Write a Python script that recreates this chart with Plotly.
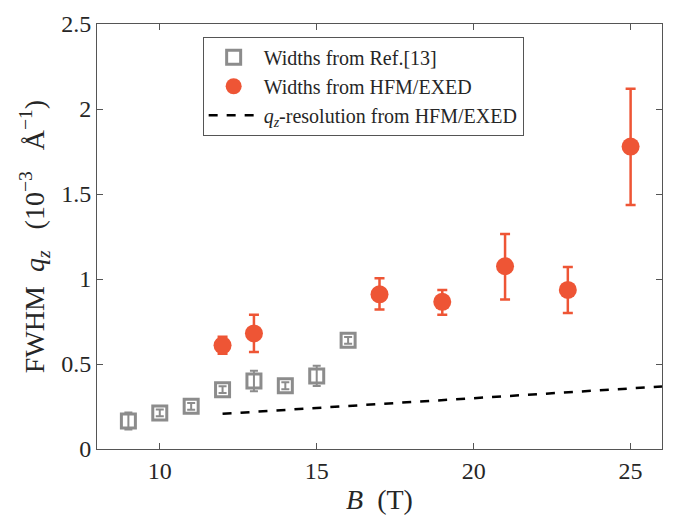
import plotly.graph_objects as go

# Widths from Ref.[13]
ref_B = [9, 10, 11, 12, 13, 14, 15, 16]
ref_w = [0.165, 0.212, 0.251, 0.349, 0.40, 0.372, 0.43, 0.639]
ref_err = [0.05, 0.02, 0.02, 0.02, 0.06, 0.02, 0.06, 0.02]

# Widths from HFM/EXED
hfm_B = [12, 13, 17, 19, 21, 23, 25]
hfm_w = [0.61, 0.68, 0.91, 0.866, 1.075, 0.936, 1.779]
hfm_plus = [0.05, 0.11, 0.095, 0.07, 0.19, 0.135, 0.34]
hfm_minus = [0.05, 0.11, 0.09, 0.076, 0.195, 0.136, 0.343]

# q_z resolution
res_B = [12, 26]
res_w = [0.207, 0.368]

gray = "#8c8c8c"
red = "#EE5535"
font_fam = "Liberation Serif, Times New Roman, serif"
txt = "#262626"
nb = "\u00a0"

fig = go.Figure()
fig.add_trace(go.Scatter(
    x=ref_B, y=ref_w, mode="markers", name="Widths from Ref.[13]",
    marker=dict(symbol="square-open", size=14, color=gray, line=dict(width=3, color=gray)),
    error_y=dict(type="data", array=ref_err, color=gray, thickness=2, width=4),
))
fig.add_trace(go.Scatter(
    x=hfm_B, y=hfm_w, mode="markers", name="Widths from HFM/EXED",
    marker=dict(symbol="circle", size=18, color=red),
    error_y=dict(type="data", array=hfm_plus, arrayminus=hfm_minus, color=red, thickness=2.5, width=5),
))
fig.add_trace(go.Scatter(
    x=res_B, y=res_w, mode="lines", name="<i>q<sub>z</sub></i>-resolution from HFM/EXED",
    line=dict(color="black", width=2.5, dash="dash"),
))

axis_common = dict(
    showgrid=False, zeroline=False, showline=True, mirror="ticks",
    linecolor="#555555", linewidth=1, ticks="inside", ticklen=6, tickcolor="#555555",
    tickfont=dict(family=font_fam, size=24, color=txt),
)
fig.update_xaxes(range=[8, 26], tickvals=[10, 15, 20, 25], ticktext=["10", "15", "20", "25"],
                 title=dict(text="<i>B</i>" + nb + " (T)", font=dict(family=font_fam, size=28, color=txt), standoff=6),
                 **axis_common)
fig.update_yaxes(range=[0, 2.5], tickvals=[0, 0.5, 1, 1.5, 2, 2.5],
                 ticktext=["0", "0.5", "1", "1.5", "2", "2.5"],
                 title=dict(text="FWHM" + nb + " <i>q<sub>z</sub></i>" + nb + nb + " (10<sup>−3</sup>" + nb + nb + " Å<sup>−1</sup>)",
                            font=dict(family=font_fam, size=28, color=txt), standoff=8),
                 **axis_common)

fig.update_layout(
    width=674, height=521,
    margin=dict(l=97, r=11, t=19, b=72),
    plot_bgcolor="white", paper_bgcolor="white",
    font=dict(family=font_fam, color=txt),
    legend=dict(x=0.187, y=0.97, xanchor="left", yanchor="top",
                bordercolor="#555555", borderwidth=1, bgcolor="white",
                font=dict(family=font_fam, size=20, color=txt),
                tracegroupgap=0, itemwidth=50),
    showlegend=True,
)

fig.write_html("out.html")
